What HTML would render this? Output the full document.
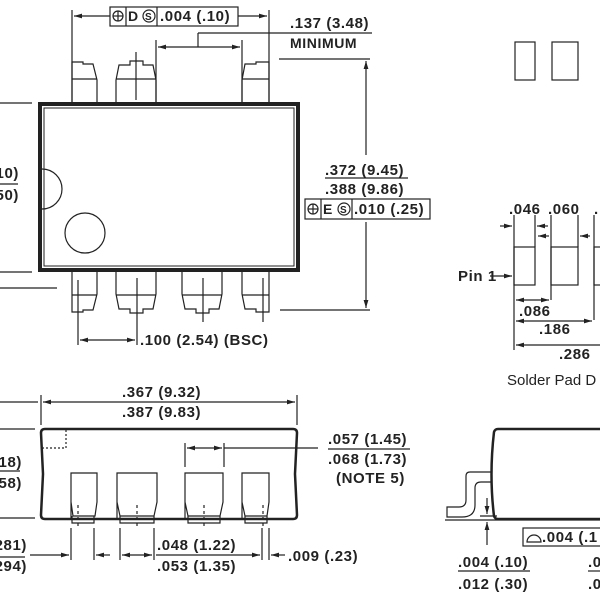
<!DOCTYPE html>
<html><head><meta charset="utf-8"><style>
html,body{margin:0;padding:0;background:#fff;}
svg{display:block;}
text{font-family:"Liberation Sans","DejaVu Sans",sans-serif;font-weight:bold;font-size:15px;letter-spacing:0.6px;fill:#222;}
.n{font-weight:normal;letter-spacing:0;}
</style></head><body>
<svg width="600" height="600" viewBox="0 0 600 600" xmlns="http://www.w3.org/2000/svg">
<defs>
<marker id="a" viewBox="0 0 10 10" refX="10" refY="5" markerWidth="8" markerHeight="8" orient="auto-start-reverse" markerUnits="userSpaceOnUse"><path d="M0,2 L10,5 L0,8z" fill="#222"/></marker>
</defs>
<g stroke="#222" fill="none" stroke-width="1.2">
<line x1="72" y1="10" x2="72" y2="102"/><line x1="269" y1="10" x2="269" y2="102"/>
<line x1="74" y1="16" x2="110" y2="16" marker-start="url(#a)"/>
<line x1="238" y1="16" x2="267" y2="16" marker-end="url(#a)"/>
<rect x="110" y="7" width="128" height="19"/>
<line x1="126" y1="7" x2="126" y2="26"/><line x1="157" y1="7" x2="157" y2="26"/>
<circle cx="118" cy="16" r="5"/><line x1="113" y1="16" x2="123" y2="16"/><line x1="118" y1="11" x2="118" y2="21"/>
<circle cx="149" cy="16" r="6"/>
<line x1="198" y1="33" x2="372" y2="33"/><line x1="198" y1="33" x2="198" y2="47"/>
<line x1="158" y1="47" x2="240" y2="47" marker-start="url(#a)" marker-end="url(#a)"/>
<line x1="156" y1="40" x2="156" y2="102"/><line x1="242" y1="40" x2="242" y2="102"/>
<line x1="279" y1="59" x2="370" y2="59"/>
<line x1="366" y1="155" x2="366" y2="61" marker-end="url(#a)"/>
<line x1="366" y1="222" x2="366" y2="308" marker-end="url(#a)"/>
<line x1="280" y1="310" x2="370" y2="310"/>
<rect x="305" y="199" width="125" height="20"/>
<line x1="321" y1="199" x2="321" y2="219"/><line x1="352" y1="199" x2="352" y2="219"/>
<circle cx="313" cy="209" r="5"/><line x1="308" y1="209" x2="318" y2="209"/><line x1="313" y1="204" x2="313" y2="214"/>
<circle cx="344" cy="209" r="6"/>
<line x1="325" y1="178" x2="408" y2="178"/>
<line x1="0" y1="103" x2="32" y2="103"/><line x1="0" y1="272" x2="32" y2="272"/><line x1="0" y1="288" x2="57" y2="288"/>
<line x1="0" y1="184" x2="18" y2="184"/>
<path d="M72,102 V62 H83 V64 H93 L97,80 V102"/><line x1="72" y1="79" x2="97" y2="79"/>
<path d="M116,102 V80 L119,65 H130 V61 H143 V65 H153 L156,80 V102"/><line x1="116" y1="79" x2="156" y2="79"/><line x1="136" y1="52" x2="136" y2="100"/>
<path d="M242,102 V80 L245,64 H256 V62 H269 V102"/><line x1="242" y1="79" x2="269" y2="79"/>
<path d="M72,272 V312 H83 V310 H93 L97,294 V272"/><line x1="72" y1="295" x2="97" y2="295"/><line x1="78" y1="280" x2="78" y2="345"/>
<path d="M116,272 V294 L119,309 H130 V313 H143 V309 H153 L156,294 V272"/><line x1="116" y1="295" x2="156" y2="295"/><line x1="137" y1="278" x2="137" y2="345"/>
<path d="M182,272 V294 L185,309 H196 V313 H209 V309 H219 L222,294 V272"/><line x1="182" y1="295" x2="222" y2="295"/><line x1="203" y1="278" x2="203" y2="322"/>
<path d="M242,272 V294 L245,309 H256 V312 H269 V272"/><line x1="242" y1="295" x2="269" y2="295"/><line x1="263" y1="278" x2="263" y2="322"/>
<line x1="80" y1="340" x2="135" y2="340" marker-start="url(#a)" marker-end="url(#a)"/>
<rect x="40" y="104" width="258" height="166" stroke-width="4"/>
<rect x="44" y="108" width="250" height="158" stroke-width="1"/>
<path d="M42,169 A20,20 0 0 1 42,209"/>
<circle cx="85" cy="233" r="20"/>
<rect x="515" y="42" width="20" height="38"/><rect x="552" y="42" width="26" height="38"/>
<rect x="514" y="247" width="21" height="38"/><rect x="551" y="247" width="27" height="38"/><rect x="594" y="247" width="10" height="38"/>
<line x1="514" y1="215" x2="514" y2="350"/><line x1="535" y1="215" x2="535" y2="247"/>
<line x1="551" y1="215" x2="551" y2="300"/><line x1="578" y1="215" x2="578" y2="247"/>
<line x1="594" y1="215" x2="594" y2="320"/>
<line x1="500" y1="226" x2="512" y2="226" marker-end="url(#a)"/><line x1="548" y1="226" x2="537" y2="226" marker-end="url(#a)"/>
<line x1="538" y1="236" x2="549" y2="236" marker-start="url(#a)"/><line x1="590" y1="236" x2="580" y2="236" marker-end="url(#a)"/>
<line x1="490" y1="276" x2="512" y2="276" marker-end="url(#a)"/>
<line x1="516" y1="300" x2="549" y2="300" marker-start="url(#a)" marker-end="url(#a)"/>
<line x1="516" y1="321" x2="592" y2="321" marker-start="url(#a)" marker-end="url(#a)"/>
<line x1="516" y1="345" x2="600" y2="345" marker-start="url(#a)"/>
<line x1="41" y1="395" x2="41" y2="425"/><line x1="297" y1="395" x2="297" y2="425"/>
<line x1="0" y1="402" x2="38" y2="402"/>
<line x1="43" y1="402" x2="295" y2="402" marker-start="url(#a)" marker-end="url(#a)"/>
<line x1="0" y1="429" x2="35" y2="429"/><line x1="0" y1="518" x2="35" y2="518"/>
<line x1="0" y1="471" x2="20" y2="471"/>
<path d="M45,429 H293 Q297,429 297,433 L295,474 L297,515 Q297,519 293,519 H45 Q41,519 41,515 L43,474 L41,433 Q41,429 45,429Z" stroke-width="2.5"/>
<path d="M66,430 V448 H43" stroke-dasharray="2,2"/>
<line x1="185" y1="443" x2="185" y2="467"/><line x1="224" y1="443" x2="224" y2="467"/>
<line x1="187" y1="448" x2="222" y2="448" marker-start="url(#a)" marker-end="url(#a)"/>
<line x1="224" y1="448" x2="318" y2="448"/>
<line x1="328" y1="449" x2="410" y2="449"/>
<path d="M71,519 V473 H97 V502 L95,516 H73 L71,502"/><path d="M72,516 V523 H94 V516"/>
<path d="M117,519 V473 H157 V502 L154,516 H120 L117,502"/><path d="M120,516 V523 H154 V516"/>
<path d="M185,519 V473 H223 V502 L220,516 H188 L185,502"/><path d="M188,516 V523 H220 V516"/>
<path d="M242,519 V473 H269 V502 L267,516 H245 L242,502"/><path d="M245,516 V523 H267 V516"/>
<g stroke-dasharray="3,3"><line x1="78" y1="505" x2="78" y2="528"/><line x1="137" y1="505" x2="137" y2="528"/><line x1="204" y1="505" x2="204" y2="528"/><line x1="263" y1="505" x2="263" y2="528"/></g>
<line x1="71" y1="528" x2="71" y2="560"/><line x1="94" y1="528" x2="94" y2="560"/>
<line x1="120" y1="528" x2="120" y2="560"/><line x1="154" y1="528" x2="154" y2="560"/>
<line x1="262" y1="528" x2="262" y2="560"/><line x1="269" y1="528" x2="269" y2="560"/>
<line x1="30" y1="555" x2="69" y2="555" marker-end="url(#a)"/>
<line x1="96" y1="555" x2="110" y2="555" marker-start="url(#a)"/>
<line x1="122" y1="555" x2="152" y2="555" marker-start="url(#a)" marker-end="url(#a)"/>
<line x1="156" y1="555" x2="260" y2="555" marker-end="url(#a)"/>
<line x1="285" y1="555" x2="271" y2="555" marker-end="url(#a)"/>
<line x1="0" y1="557" x2="25" y2="557"/>
<path d="M600,429 H498 Q495,429 494,432 Q489,475 494,516 Q495,519 498,519 H600" stroke-width="2.5"/>
<path d="M491,472 H470 Q466,472 466,476 V500 Q466,507 459,507 H447 V517 H462 Q475,517 475,505 V488 Q475,482 481,482 H492"/>
<line x1="445" y1="520" x2="600" y2="520"/>
<line x1="480" y1="516" x2="497" y2="516"/>
<line x1="487" y1="498" x2="487" y2="514" marker-end="url(#a)"/>
<line x1="487" y1="545" x2="487" y2="522" marker-end="url(#a)"/>
<rect x="523" y="528" width="80" height="18"/>
<path d="M527,542 A7,7 0 0 1 541,542 Z"/>
<line x1="458" y1="571" x2="530" y2="571"/>
<line x1="588" y1="571" x2="600" y2="571"/>
</g>
<text x="160" y="21">.004 (.10)</text>
<text x="128" y="21" style="font-size:14px">D</text>
<text x="145" y="20" style="font-size:10px;letter-spacing:0">S</text>
<text x="290" y="28">.137 (3.48)</text>
<text x="290" y="48" style="font-size:14px">MINIMUM</text>
<text x="325" y="175">.372 (9.45)</text>
<text x="325" y="194">.388 (9.86)</text>
<text x="323" y="214" style="font-size:14px">E</text>
<text x="340" y="213" style="font-size:10px;letter-spacing:0">S</text>
<text x="354" y="214">.010 (.25)</text>
<text x="19" y="178" text-anchor="end">.10)</text>
<text x="19" y="200" text-anchor="end">.50)</text>
<text x="140" y="345">.100 (2.54) (BSC)</text>
<text x="509" y="214">.046</text>
<text x="548" y="214">.060</text>
<text x="594" y="214">.</text>
<text x="458" y="281">Pin 1</text>
<text x="519" y="316">.086</text>
<text x="539" y="334">.186</text>
<text x="559" y="359">.286</text>
<text x="507" y="385" class="n" style="font-size:15px">Solder Pad D</text>
<text x="122" y="397">.367 (9.32)</text>
<text x="122" y="417">.387 (9.83)</text>
<text x="22" y="467" text-anchor="end">.418)</text>
<text x="22" y="488" text-anchor="end">.458)</text>
<text x="328" y="444">.057 (1.45)</text>
<text x="328" y="464">.068 (1.73)</text>
<text x="336" y="483">(NOTE 5)</text>
<text x="27" y="550" text-anchor="end">.281)</text>
<text x="27" y="571" text-anchor="end">.294)</text>
<text x="157" y="550">.048 (1.22)</text>
<text x="157" y="571">.053 (1.35)</text>
<text x="288" y="561">.009 (.23)</text>
<text x="542" y="542">.004 (.1</text>
<text x="458" y="567">.004 (.10)</text>
<text x="458" y="589">.012 (.30)</text>
<text x="588" y="567">.0</text>
<text x="588" y="589">.0</text>
</svg>
</body></html>
